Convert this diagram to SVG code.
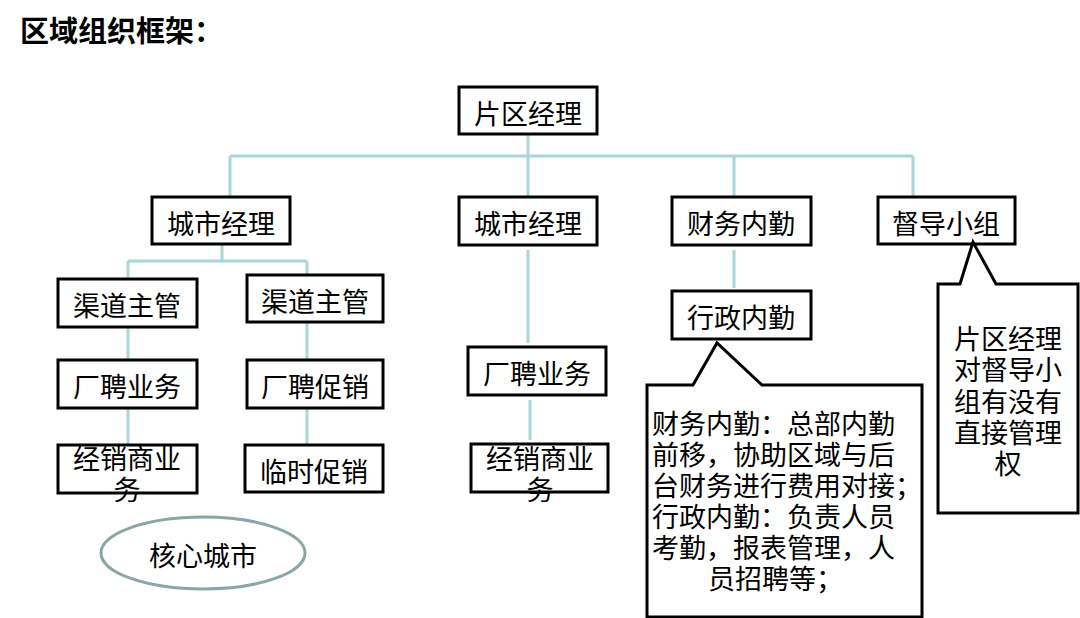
<svg xmlns="http://www.w3.org/2000/svg" width="1080" height="618" viewBox="0 0 1080 618">
<style>
.bg{fill:#ffffff}
.box{fill:#ffffff;stroke:#000000;stroke-width:3}
.call{fill:#ffffff;stroke:#000000;stroke-width:3;stroke-linejoin:miter}
.t{font-family:"Noto Sans CJK SC","Noto Sans",sans-serif;font-size:27px;fill:#000000;dominant-baseline:central}
.c{text-anchor:middle}
.title{font-family:"Noto Sans CJK SC","Noto Sans",sans-serif;font-size:29px;font-weight:bold;fill:#000000;dominant-baseline:central}
.ln{stroke:#a8d6da;stroke-width:3;fill:none}
.ell{fill:#ffffff;stroke:#8aa6a8;stroke-width:3}
</style>
<rect class="bg" x="0" y="0" width="1080" height="618"/>
<text class="title" x="20" y="29">区域组织框架：</text>
<g id="connectors">
<path class="ln" d="M528 134V156M230 156H913M230 156V197M528 156V197M734 156V197M913 156V197"/>
<path class="ln" d="M222 244V261M128 261H307M128 261V279M307 261V275"/>
<path class="ln" d="M128 327V360M307 322V360M128 408V445M307 408V445"/>
<path class="ln" d="M528 250V343M530 400V440M734 250V288"/>
</g>
<g id="n-pianqu"><rect class="box" x="459" y="87" width="138" height="47"/><text class="t c" x="528" y="112">片区经理</text></g>
<g id="n-city1"><rect class="box" x="152" y="197" width="138" height="47"/><text class="t c" x="221" y="222">城市经理</text></g>
<g id="n-city2"><rect class="box" x="459" y="197" width="138" height="48"/><text class="t c" x="528" y="222">城市经理</text></g>
<g id="n-caiwu"><rect class="box" x="672" y="197" width="139" height="48"/><text class="t c" x="741" y="222">财务内勤</text></g>
<g id="n-dudao"><rect class="box" x="878" y="197" width="137" height="47"/><text class="t c" x="946" y="222">督导小组</text></g>
<g id="n-qudao1"><rect class="box" x="58" y="279" width="139" height="48"/><text class="t c" x="127" y="304">渠道主管</text></g>
<g id="n-qudao2"><rect class="box" x="247" y="275" width="136" height="47"/><text class="t c" x="315" y="300">渠道主管</text></g>
<g id="n-changpin1"><rect class="box" x="58" y="360" width="139" height="48"/><text class="t c" x="127" y="385">厂聘业务</text></g>
<g id="n-changpin2"><rect class="box" x="247" y="360" width="136" height="48"/><text class="t c" x="315" y="385">厂聘促销</text></g>
<g id="n-jingxiao1"><rect class="box" x="58" y="445" width="139" height="48"/><text class="t c" x="127" y="457">经销商业</text><text class="t c" x="127" y="488">务</text></g>
<g id="n-linshi"><rect class="box" x="245" y="445" width="138" height="47"/><text class="t c" x="314" y="470">临时促销</text></g>
<g id="n-changpin3"><rect class="box" x="468" y="347" width="138" height="48"/><text class="t c" x="537" y="372">厂聘业务</text></g>
<g id="n-jingxiao2"><rect class="box" x="471" y="444" width="137" height="48"/><text class="t c" x="540" y="457">经销商业</text><text class="t c" x="540" y="488">务</text></g>
<g id="n-xingzheng"><rect class="box" x="672" y="291" width="139" height="48"/><text class="t c" x="741" y="316">行政内勤</text></g>
<g id="n-hexin"><ellipse class="ell" cx="203" cy="553" rx="102" ry="36"/><text class="t c" x="203" y="554">核心城市</text></g>
<g id="callout-admin">
<path class="call" d="M647 385H693L717 343L762 385H922V617H647Z"/>
<text class="t" x="652" y="422">财务内勤：总部内勤</text>
<text class="t" x="652" y="453">前移，协助区域与后</text>
<text class="t" x="652" y="484">台财务进行费用对接；</text>
<text class="t" x="652" y="515">行政内勤：负责人员</text>
<text class="t" x="652" y="546">考勤，报表管理，人</text>
<text class="t" x="708" y="577">员招聘等；</text>
</g>
<g id="callout-dudao">
<path class="call" d="M938 284H960L973 242L996 284H1078V513H938Z"/>
<text class="t c" x="1008" y="337">片区经理</text>
<text class="t c" x="1008" y="368">对督导小</text>
<text class="t c" x="1008" y="400">组有没有</text>
<text class="t c" x="1008" y="431">直接管理</text>
<text class="t c" x="1008" y="462">权</text>
</g>
</svg>
